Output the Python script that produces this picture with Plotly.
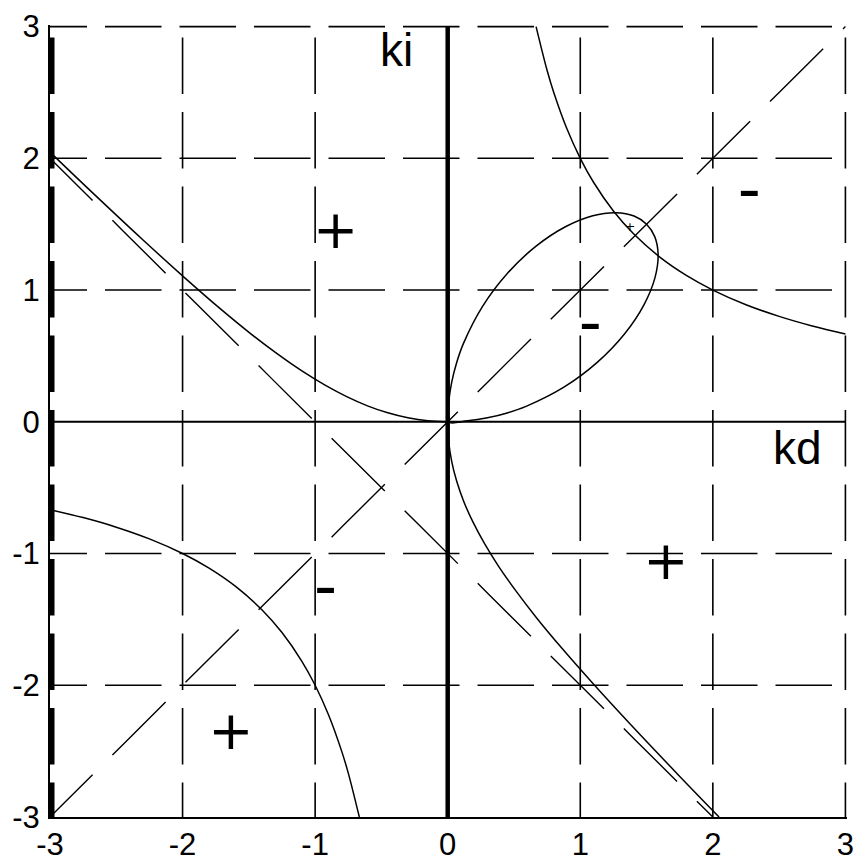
import plotly.graph_objects as go

# Axis ticks
tick_vals = [-3, -2, -1, 0, 1, 2, 3]
tick_text = ["-3", "-2", "-1", "0", "1", "2", "3"]

# Folium x^3 + y^3 = 3*kd*ki  (asymptote kd + ki + 1 = 0)
loop_kd = [0.0, 0.1500, 0.2997, 0.4485, 0.5952, 0.8763, 1.1278, 1.3333, 1.4803, 1.5637,
           1.5873, 1.5616, 1.5, 1.4055, 1.2698, 1.0946, 0.8882, 0.6667, 0.4511, 0.2629,
           0.1190, 0.0673, 0.0300, 0.0075, 0.0]
loop_ki = [0.0, 0.0075, 0.0300, 0.0673, 0.1190, 0.2629, 0.4511, 0.6667, 0.8882, 1.0946,
           1.2698, 1.4055, 1.5, 1.5616, 1.5873, 1.5637, 1.4803, 1.3333, 1.1278, 0.8763,
           0.5952, 0.4485, 0.2997, 0.1500, 0.0]
upper_kd = [-3.0, -2.688, -2.296, -1.979, -1.714, -1.485, -1.282, -1.097, -0.925, -0.762,
            -0.605, -0.452, -0.300, -0.150, 0.0]
upper_ki = [2.047, 1.747, 1.378, 1.089, 0.857, 0.668, 0.513, 0.384, 0.278, 0.191,
            0.121, 0.068, 0.030, 0.0075, 0.0]
lower_kd = [0.0, 0.0075, 0.030, 0.068, 0.121, 0.191, 0.278, 0.384, 0.513, 0.668,
            0.857, 1.089, 1.378, 1.747, 2.047]
lower_ki = [0.0, -0.150, -0.300, -0.452, -0.605, -0.762, -0.925, -1.097, -1.282, -1.485,
            -1.714, -1.979, -2.296, -2.688, -3.0]

# Hyperbola kd * ki = 2
hyp_kd = [0.6667, 0.75, 0.8, 0.9, 1.0, 1.1, 1.25, 1.4, 1.6, 1.8, 2.0, 2.25, 2.5, 2.75, 3.0]
hyp_ki = [3.0, 2.6667, 2.5, 2.2222, 2.0, 1.8182, 1.6, 1.4286, 1.25, 1.1111, 1.0, 0.8889,
          0.8, 0.7273, 0.6667]

# Dashed diagonals: ki = kd and ki = -kd - 1
diag1_kd = [-3, 3]
diag1_ki = [-3, 3]
diag2_kd = [-3, 2]
diag2_ki = [2, -3]

# Grid positions
grid_levels = [-2, -1, 1, 2, 3]

# Region sign labels
plus_kd = [-0.845, -1.635, 1.645]
plus_ki = [1.425, -2.385, -1.092]
minus_kd = [2.275, 1.075, -0.921]
minus_ki = [1.722, 0.712, -1.291]
small_plus_kd = [1.375]
small_plus_ki = [1.47]

EXTRA = 0.012
H_DASH = "37px,18px,19.5px,0px"
V_DASH = "0px,11px,56.5px,7px"
D_DASH = "60px,28px,15px,0px"
INK = "black"


def segments(levels, lo, hi, vertical):
    a, b = [], []
    for v in levels:
        if vertical:
            a += [v, v, None]
            b += [hi, lo, None]
        else:
            a += [lo, hi, None]
            b += [v, v, None]
    return a, b


fig = go.Figure()

hx, hy = segments(grid_levels, -3, 3, vertical=False)
fig.add_trace(go.Scatter(x=hx, y=hy, mode="lines",
                         line=dict(color=INK, width=1.6, dash=H_DASH)))
vx, vy = segments(grid_levels, -3, 3, vertical=True)
fig.add_trace(go.Scatter(x=vx, y=vy, mode="lines",
                         line=dict(color=INK, width=1.6, dash=V_DASH)))
# heavy dashed left edge
fig.add_trace(go.Scatter(x=[-3, -3], y=[3, -3], mode="lines",
                         line=dict(color=INK, width=9, dash=V_DASH)))

# axes through the origin
fig.add_trace(go.Scatter(x=[0, 0], y=[-3, 3], mode="lines",
                         line=dict(color=INK, width=4.5)))
fig.add_trace(go.Scatter(x=[-3, 3], y=[0, 0], mode="lines",
                         line=dict(color=INK, width=2)))

# diagonals
fig.add_trace(go.Scatter(x=diag1_kd, y=diag1_ki, mode="lines",
                         line=dict(color=INK, width=1.4, dash=D_DASH)))
fig.add_trace(go.Scatter(x=diag2_kd, y=diag2_ki, mode="lines",
                         line=dict(color=INK, width=1.4, dash=D_DASH)))

# curves
for cx, cy in [(loop_kd, loop_ki), (upper_kd, upper_ki), (lower_kd, lower_ki),
               (hyp_kd, hyp_ki),
               ([-v for v in hyp_kd], [-v for v in hyp_ki])]:
    fig.add_trace(go.Scatter(x=cx, y=cy, mode="lines",
                             line=dict(color=INK, width=1.5, shape="spline", smoothing=1)))

# sign labels
fig.add_trace(go.Scatter(x=plus_kd, y=plus_ki, mode="text", text=["+"] * len(plus_kd),
                         textposition="middle center",
                         textfont=dict(family="DejaVu Sans", size=54, color=INK)))
fig.add_trace(go.Scatter(x=minus_kd, y=minus_ki, mode="text", text=["-"] * len(minus_kd),
                         textposition="middle center",
                         textfont=dict(family="DejaVu Sans", size=64, color=INK)))
fig.add_trace(go.Scatter(x=small_plus_kd, y=small_plus_ki, mode="text", text=["+"],
                         textposition="middle center",
                         textfont=dict(family="DejaVu Sans", size=13, color=INK)))

fig.add_annotation(x=-0.39, y=2.82, text="ki", showarrow=False,
                   font=dict(family="Liberation Sans", size=46, color=INK))
fig.add_annotation(x=2.64, y=-0.2, text="kd", showarrow=False,
                   font=dict(family="Liberation Sans", size=46, color=INK))

plot_w = 795 * (6 + EXTRA) / 6
plot_h = 790 * (6 + EXTRA) / 6
axis_common = dict(
    range=[-3, 3 + EXTRA], tickvals=tick_vals, ticktext=tick_text,
    showgrid=False, zeroline=False, showline=True, linecolor=INK, linewidth=2,
    ticks="", tickfont=dict(family="Liberation Sans", size=31, color=INK),
    fixedrange=True, automargin=False, ticklabeloverflow="allow",
)
fig.update_xaxes(**axis_common, ticklabelstandoff=-1)
fig.update_yaxes(**axis_common, ticklabelstandoff=2)
fig.update_layout(
    width=854, height=862,
    margin=dict(l=50, r=854 - 50 - plot_w, t=862 - 45 - plot_h, b=45, autoexpand=False),
    paper_bgcolor="white", plot_bgcolor="white",
    showlegend=False,
)

fig.write_html("out.html")
